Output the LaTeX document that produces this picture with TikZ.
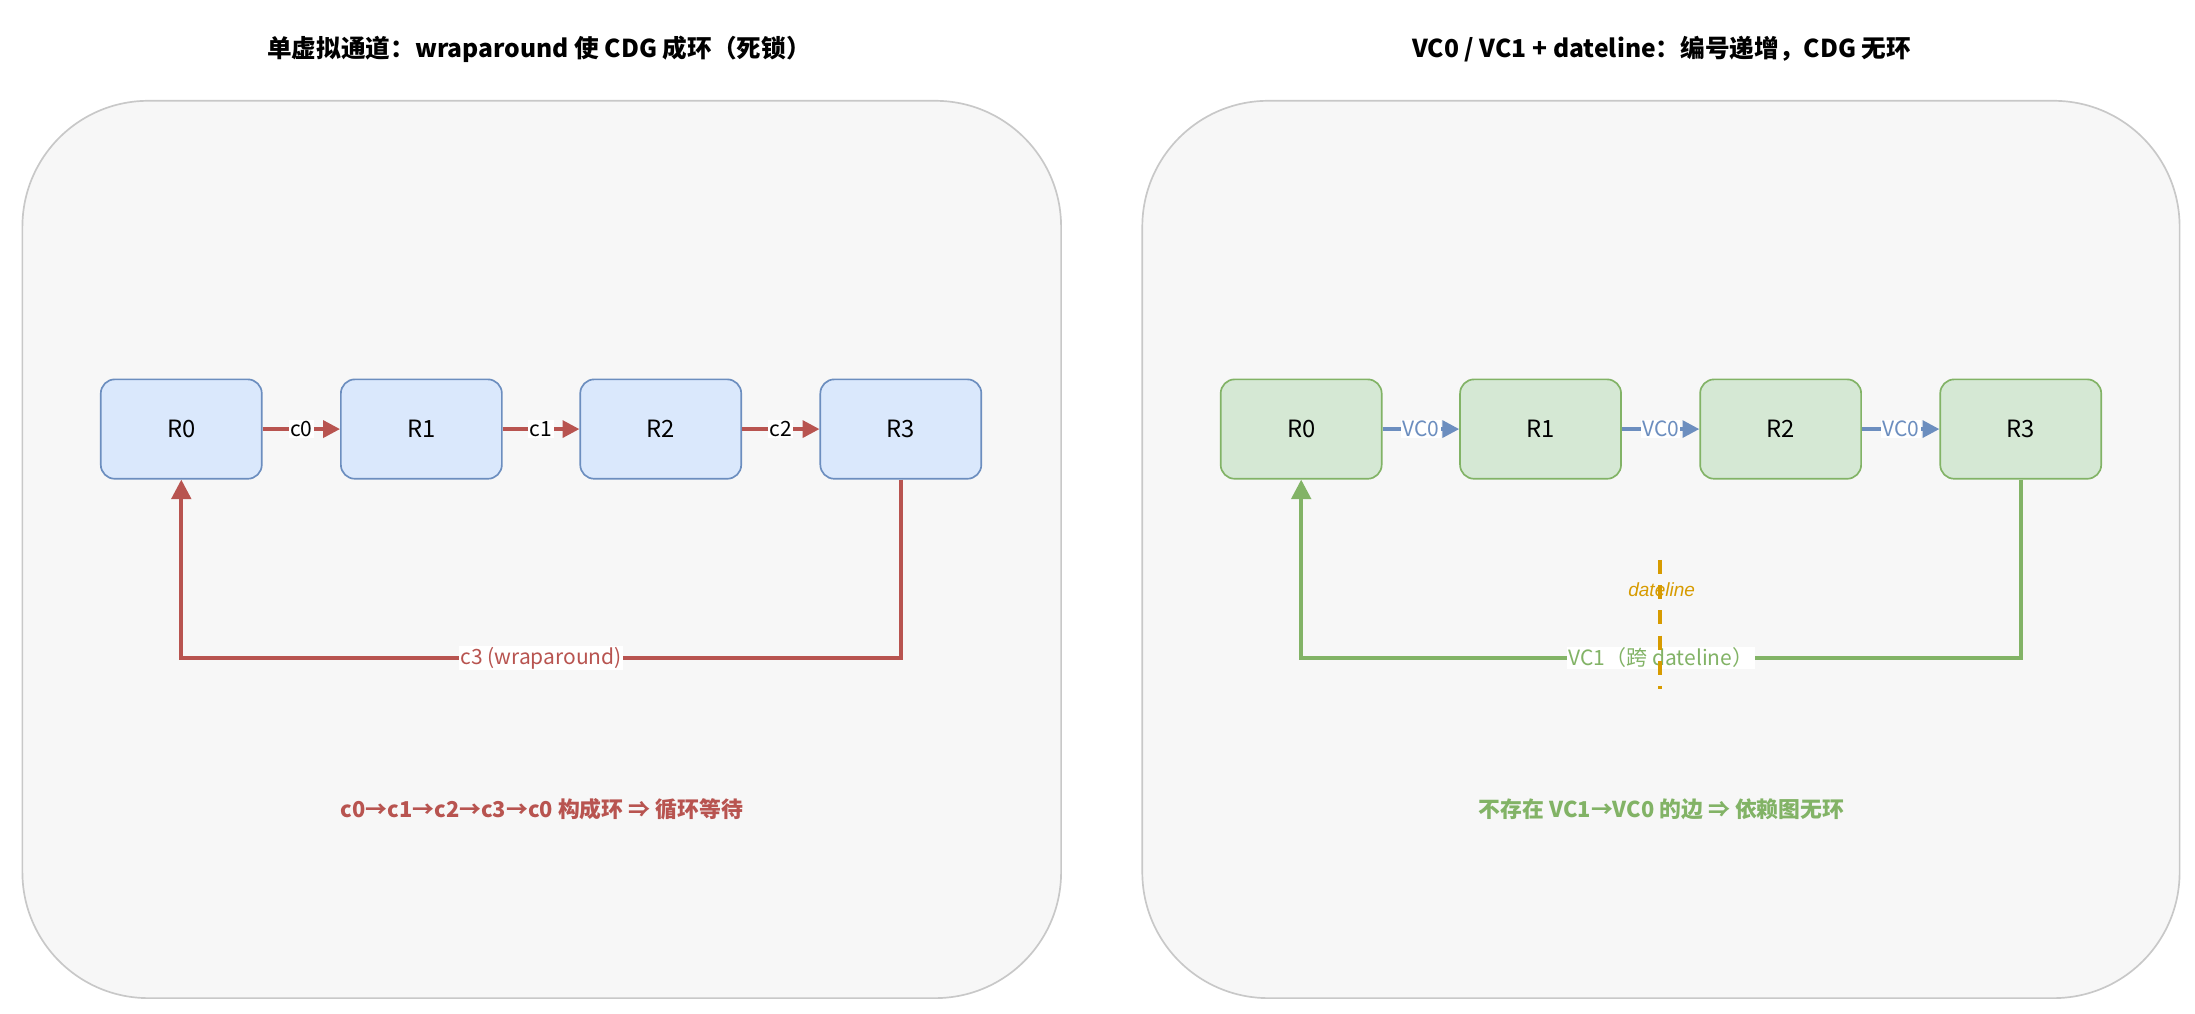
\documentclass[tikz,border=0pt]{standalone}
\usepackage{fontspec}
\setmainfont{Noto Sans CJK SC}
\newfontfamily\latinit{Liberation Sans}
\usetikzlibrary{arrows.meta}
\definecolor{pfill}{HTML}{F7F7F7}
\definecolor{pline}{HTML}{C8C8C8}
\definecolor{bfill}{HTML}{DAE8FC}
\definecolor{bline}{HTML}{6C8EBF}
\definecolor{gfill}{HTML}{D5E8D4}
\definecolor{gline}{HTML}{82B366}
\definecolor{red}{HTML}{B85450}
\definecolor{org}{HTML}{D79B00}
\begin{document}
\begin{tikzpicture}[x=0.5pt,y=-0.5pt,
  panel/.style={draw=pline,fill=pfill,rounded corners=45pt,line width=0.6pt},
  title/.style={font=\fontsize{8.8}{10}\selectfont\bfseries},
  rb/.style={draw=bline,fill=bfill,rounded corners=5pt,minimum width=57.5pt,minimum height=35.5pt,font=\fontsize{8.5}{9}\selectfont,line width=0.6pt},
  rg/.style={draw=gline,fill=gfill,rounded corners=5pt,minimum width=57.5pt,minimum height=35.5pt,font=\fontsize{8.5}{9}\selectfont,line width=0.6pt},
  rarr/.style={draw=red,line width=1.3pt,-{Triangle[length=6pt,width=6pt]}},
  barr/.style={draw=bline,line width=1.3pt,-{Triangle[length=6pt,width=6pt]}},
  garr/.style={draw=gline,line width=1.3pt,-{Triangle[length=7pt,width=7pt]}},
  lab/.style={fill=white,inner sep=0.5pt,font=\fontsize{7.5}{8}\selectfont},
  note/.style={font=\fontsize{7.8}{9}\selectfont\bfseries}]
\useasboundingbox (0,0) rectangle (1568,724);
\fill[white] (0,0) rectangle (1568,724);
\draw[panel] (16,72) rectangle (758,713);
\draw[panel] (816,72) rectangle (1557,713);
\node[title] (t1) at (385,35) {单虚拟通道：wraparound 使 CDG 成环（死锁）};
\node[title] (t2) at (1187,35) {VC0 / VC1 + dateline：编号递增，CDG 无环};
% left
\node[rb] (a0) at (129.5,306.5) {R0};
\node[rb] (a1) at (301,306.5) {R1};
\node[rb] (a2) at (472,306.5) {R2};
\node[rb] (a3) at (643.5,306.5) {R3};
\draw[rarr] (a0) -- node[lab]{c0} (a1);
\draw[rarr] (a1) -- node[lab]{c1} (a2);
\draw[rarr] (a2) -- node[lab]{c2} (a3);
\coordinate (w1) at (643.5,470);
\coordinate (w2) at (129.5,470);
\draw[rarr,-{Triangle[length=7pt,width=7pt]}] (a3.south) -- (w1) -- node[lab,text=red,pos=0.5]{c3 (wraparound)} (w2) -- (a0.south);
\node[note,text=red] (n1) at (387,578) {c0→c1→c2→c3→c0 构成环 ⇒ 循环等待};
% right
\node[rg] (b0) at (929.5,306.5) {R0};
\node[rg] (b1) at (1100.5,306.5) {R1};
\node[rg] (b2) at (1272,306.5) {R2};
\node[rg] (b3) at (1443.5,306.5) {R3};
\draw[barr] (b0) -- node[lab,text=bline]{VC0} (b1);
\draw[barr] (b1) -- node[lab,text=bline]{VC0} (b2);
\draw[barr] (b2) -- node[lab,text=bline]{VC0} (b3);
\coordinate (v1) at (1443.5,470);
\coordinate (v2) at (929.5,470);
\draw[garr] (b3.south) -- (v1) -- node[lab,text=gline,pos=0.5]{VC1（跨 dateline）} (v2) -- (b0.south);
\node[text=org,font=\fontsize{6.8}{8}\selectfont\latinit\itshape] (dl) at (1187,421) {dateline};
\coordinate (d1) at (1186,400);
\coordinate (d2) at (1186,492);
\draw[org,line width=1.3pt,dash pattern=on 5pt off 4pt] (d1) -- (d2);
\node[note,text=gline] (n2) at (1187,578) {不存在 VC1→VC0 的边 ⇒ 依赖图无环};
\end{tikzpicture}
\end{document}
